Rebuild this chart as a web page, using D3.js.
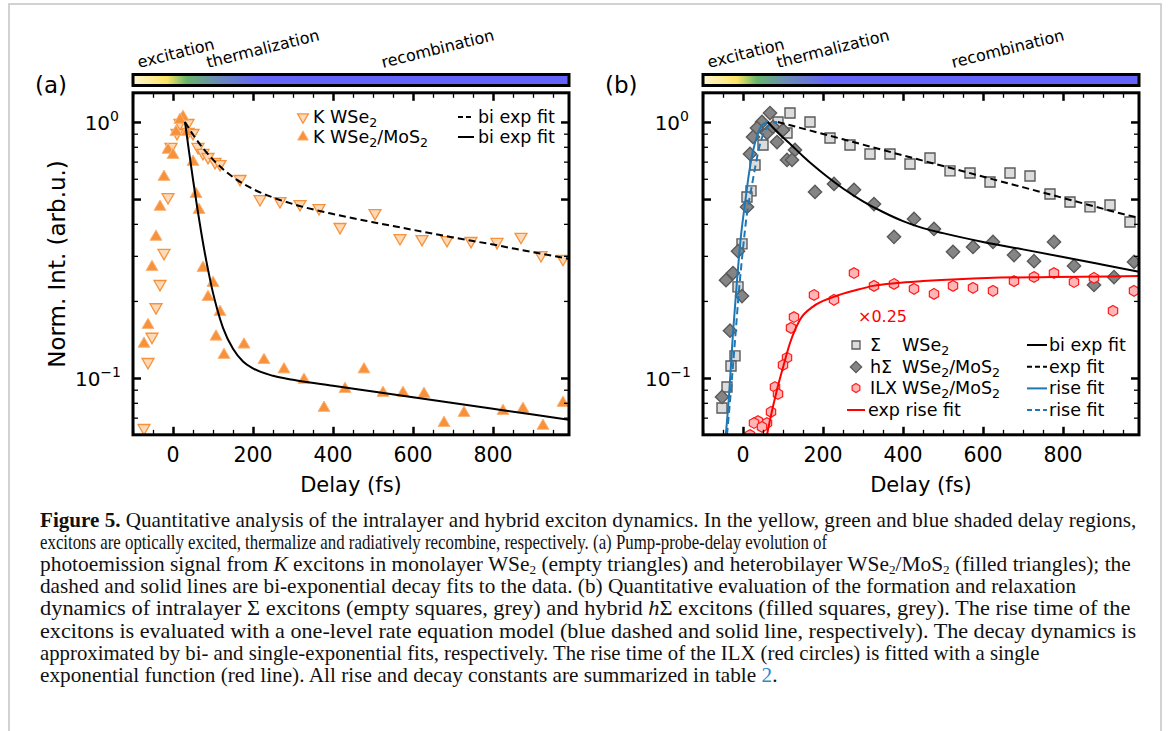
<!DOCTYPE html>
<html>
<head>
<meta charset="utf-8">
<script src="https://cdn.jsdelivr.net/npm/d3@7"></script>
<style>
  body { margin: 0; background: #fff; }
  svg { display: block; }
  text { font-family: "DejaVu Sans", sans-serif; }
</style>
</head>
<body>
<div id="fig"></div>
<script>
// ---- panel (a): K excitons, delay (fs) vs normalised intensity ----
var kWSe2_t = [17.5, 37.5, 10, 37.5, 50, -5, 62.5, 75, 87.5, 105, 117.5, 167.5, 217.5, 267.5, 317.5, 365, 417.5, -12.5, -22.5, -32.5, -42.5, -52.5, -62.5, -72.5,
               505, 567.5, 622.5, 685, 745, 810, 870, 920, 975];
var kWSe2_v = [0.991, 0.991, 0.906, 0.914, 0.906, 0.799, 0.799, 0.757, 0.730, 0.698, 0.685, 0.599, 0.500, 0.491, 0.478, 0.461, 0.389, 0.509, 0.308, 0.233, 0.189, 0.145, 0.1155, 0.0638,
               0.441, 0.352, 0.349, 0.346, 0.343, 0.340, 0.356, 0.302, 0.292];
var kHet_t = [25, 17.5, 7.5, 35, -12.5, 0, 50, -22.5, 57.5, -32.5, 65, -42.5, -52.5, 75, 100, 87.5, -62.5, -72.5, 117.5, 107.5, 127.5, 177.5, 227.5, 277.5, 327.5, 377.5, 430, 477.5, 525, 575, 627.5, 677.5, 727.5, 825, 875, 925, 975];
var kHet_v = [1.046, 1.018, 0.914, 0.914, 0.778, 0.743, 0.698, 0.610, 0.523, 0.466, 0.453, 0.356, 0.271, 0.269, 0.235, 0.207, 0.161, 0.136, 0.181, 0.145, 0.123, 0.135, 0.1175, 0.108, 0.0983, 0.0764, 0.0906, 0.108, 0.0874, 0.0874, 0.0866, 0.0667, 0.073, 0.0743, 0.0757, 0.065, 0.0799];
// bi-exponential fits
var fitKWSe2_t = [30, 50, 75, 100, 150, 200, 250, 300, 400, 500, 600, 700, 800, 900, 990];
var fitKWSe2_v = [1.0, 0.893, 0.790, 0.713, 0.609, 0.547, 0.507, 0.478, 0.437, 0.406, 0.379, 0.354, 0.332, 0.310, 0.292];
var fitKHet_t = [30, 40, 50, 60, 70, 80, 90, 100, 110, 125, 150, 175, 200, 250, 300, 400, 500, 600, 700, 800, 900, 990];
var fitKHet_v = [1.0, 0.767, 0.596, 0.469, 0.375, 0.305, 0.254, 0.215, 0.187, 0.157, 0.130, 0.116, 0.109, 0.102, 0.0984, 0.0933, 0.0886, 0.0841, 0.0798, 0.0758, 0.0720, 0.0687];

// ---- panel (b): Sigma, h-Sigma and ILX ----
var sig_t = [117.5, 87.5, 50, 110, 167.5, 217.5, 267.5, 317.5, 367.5, 417.5, 467.5, 30, 20, 10, -2.5, -12.5, -20, -30, -40, -52.5, 517.5, 567.5, 617.5, 667.5, 717.5, 767.5, 817.5, 867.5, 917.5, 967.5];
var sig_v = [1.084, 1.0, 0.813, 0.906, 1.0, 0.866, 0.813, 0.750, 0.750, 0.685, 0.723, 0.679, 0.538, 0.509, 0.334, 0.227, 0.122, 0.1114, 0.0922, 0.0764, 0.644, 0.632, 0.583, 0.632, 0.615, 0.523, 0.487, 0.466, 0.474, 0.407];
var hSig_t = [67.5, 47.5, 35, 25, 60, 75, 100, 85, 130, 110, 122.5, 17.5, 10, -12.5, -25, -42.5, -2.5, 180, 227.5, 277.5, 327.5, 377.5, 427.5, 477.5, -32.5, -52.5, 525, 575, 625, 677.5, 727.5, 777.5, 827.5, 877.5, 927.5, 977.5];
var hSig_v = [1.084, 1.0, 0.947, 0.874, 0.906, 0.956, 0.931, 0.835, 0.778, 0.711, 0.711, 0.750, 0.466, 0.313, 0.257, 0.241, 0.209, 0.533, 0.573, 0.543, 0.478, 0.356, 0.418, 0.382, 0.153, 0.0843, 0.311, 0.325, 0.340, 0.302, 0.286, 0.340, 0.274, 0.231, 0.248, 0.284];
var ilx_t = [277.5, 177.5, 227.5, 327.5, 377.5, 427.5, 477.5, 127.5, 120, 110, 100, 80, 87.5, 70, 60, 37.5, 27.5, 47.5, 17.5, 525, 575, 625, 677.5, 727.5, 777.5, 827.5, 877.5, 925, 977.5];
var ilx_v = [0.257, 0.211, 0.202, 0.229, 0.233, 0.223, 0.213, 0.173, 0.157, 0.120, 0.1124, 0.0922, 0.0866, 0.0737, 0.0667, 0.0679, 0.0667, 0.0644, 0.0599, 0.229, 0.225, 0.219, 0.239, 0.248, 0.257, 0.237, 0.246, 0.183, 0.219];
// fits
var fitHSigBi_t = [62, 90, 120, 150, 180, 210, 250, 300, 350, 400, 450, 500, 600, 700, 800, 900, 990];
var fitHSigBi_v = [1.0, 0.90, 0.815, 0.735, 0.668, 0.612, 0.55, 0.49, 0.445, 0.41, 0.385, 0.368, 0.34, 0.318, 0.297, 0.277, 0.26];
var fitSigExp_t = [87, 150, 250, 350, 450, 550, 650, 750, 850, 950, 990];
var fitSigExp_v = [1.0, 0.942, 0.856, 0.777, 0.706, 0.642, 0.583, 0.530, 0.481, 0.437, 0.422];
var riseHSig_t = [-43, -35, -25, -15, -5, 5, 15, 25, 35, 45, 55, 62];
var riseHSig_v = [0.06, 0.085, 0.15, 0.24, 0.36, 0.48, 0.63, 0.77, 0.88, 0.96, 0.99, 1.0];
var riseSig_t = [-40, -30, -20, -10, 0, 10, 20, 30, 40, 50, 60, 70, 85];
var riseSig_v = [0.06, 0.09, 0.14, 0.22, 0.32, 0.44, 0.54, 0.66, 0.79, 0.89, 0.95, 0.985, 1.0];
var riseIlx_t = [60, 67.5, 85, 100, 117.5, 142.5, 175, 225, 285, 325, 385, 450, 610, 775, 990];
var riseIlx_v = [0.06, 0.0685, 0.090, 0.110, 0.137, 0.169, 0.190, 0.207, 0.221, 0.229, 0.235, 0.239, 0.246, 0.248, 0.250];

var xTicksMajor = [0, 200, 400, 600, 800];
var xTicksMinor = [-100, -50, 50, 100, 150, 250, 300, 350, 450, 500, 550, 650, 700, 750, 850, 900, 950];
var yTicksMajor = [1, 0.5, 0.1];
var yTicksMinor = [0.06, 0.07, 0.08, 0.09, 0.2, 0.3, 0.4, 0.6, 0.7, 0.8, 0.9];

var W = 1168, H = 731;
var svg = d3.select("#fig").append("svg").attr("width", W).attr("height", H);

// light frame around the figure
svg.append("rect").attr("x", 9).attr("y", 4).attr("width", 1152).attr("height", 800)
    .attr("fill", "none").attr("stroke", "#c4c4c4").attr("stroke-width", 1.5);

var y = d3.scaleLog().domain([0.06, 1.3]).range([434.8, 92.8]);
var xa = d3.scaleLinear().domain([-100, 990]).range([133, 569]);
var xb = d3.scaleLinear().domain([-100, 990]).range([703, 1139]);

// colour bar gradient (yellow -> green -> blue)
var defs = svg.append("defs");
var grad = defs.append("linearGradient").attr("id", "phase");
[[-100, "#fcf6d4"], [-15, "#fde462"], [35, "#66b56b"], [110, "#6a8cb6"], [215, "#6565f8"], [990, "#6464fa"]].forEach(function (s) {
    grad.append("stop").attr("offset", (s[0] + 100) / 1090).attr("stop-color", s[1]);
});

var hexagon = {
    draw: function (ctx, size) {
        var r = Math.sqrt(size / 2.598);
        for (var i = 0; i < 6; i++) {
            var a = Math.PI / 3 * i - Math.PI / 2;
            if (i === 0) ctx.moveTo(r * Math.cos(a), r * Math.sin(a));
            else ctx.lineTo(r * Math.cos(a), r * Math.sin(a));
        }
        ctx.closePath();
    }
};

function zip(t, v) { return t.map(function (d, i) { return [d, v[i]]; }); }

function panel(id, x, label) {
    var g = svg.append("g");
    defs.append("clipPath").attr("id", "clip" + id).append("rect")
        .attr("x", x.range()[0]).attr("y", y.range()[1])
        .attr("width", x.range()[1] - x.range()[0]).attr("height", y.range()[0] - y.range()[1]);

    // colour bar + phase labels
    g.append("rect").attr("x", x(-100)).attr("y", 74.5).attr("width", x(990) - x(-100)).attr("height", 11)
        .attr("fill", "url(#phase)").attr("stroke", "#000").attr("stroke-width", 3);
    [["excitation", 6], ["thermalization", 75], ["recombination", 250]].forEach(function (p) {
        g.append("text").attr("transform", "translate(" + (x.range()[0] + p[1]) + ",68) rotate(-14)")
            .style("font-size", "16px").text(p[0]);
    });
    g.append("text").attr("x", x.range()[0] - 98).attr("y", 93).style("font-size", "23px").text(label);

    var data = g.append("g").attr("clip-path", "url(#clip" + id + ")");

    // axes: major / minor ticks on all four sides, pointing inward
    function ticks(axis, vals, len, w, tr) {
        var a = g.append("g").attr("transform", tr)
            .call(axis.tickValues(vals).tickSizeInner(-len).tickSizeOuter(0).tickFormat(""));
        a.select(".domain").remove();
        a.selectAll("line").attr("stroke-width", w);
    }
    var bottom = y.range()[0], top = y.range()[1], left = x.range()[0], right = x.range()[1];
    ticks(d3.axisBottom(x), xTicksMajor, 8, 2.5, "translate(0," + bottom + ")");
    ticks(d3.axisBottom(x), xTicksMinor, 5, 1.3, "translate(0," + bottom + ")");
    ticks(d3.axisTop(x), xTicksMajor, 8, 2.5, "translate(0," + top + ")");
    ticks(d3.axisTop(x), xTicksMinor, 5, 1.3, "translate(0," + top + ")");
    ticks(d3.axisLeft(y), yTicksMajor, 8, 2.5, "translate(" + left + ",0)");
    ticks(d3.axisLeft(y), yTicksMinor, 5, 1.3, "translate(" + left + ",0)");
    ticks(d3.axisRight(y), yTicksMajor, 8, 2.5, "translate(" + right + ",0)");
    ticks(d3.axisRight(y), yTicksMinor, 5, 1.3, "translate(" + right + ",0)");

    g.append("g").selectAll("text").data(xTicksMajor).enter().append("text")
        .attr("x", function (d) { return x(d); }).attr("y", bottom + 27)
        .attr("text-anchor", "middle").style("font-size", "20.5px").text(function (d) { return d; });
    [[1, "0", 119], [0.1, "\u22121", 121]].forEach(function (d) {
        var t = g.append("text").attr("x", left - (133 - d[2])).attr("y", y(d[0]) + 8)
            .attr("text-anchor", "end").style("font-size", "20px");
        t.append("tspan").text("10");
        t.append("tspan").attr("dy", -9).style("font-size", "14px").text(d[1]);
    });
    g.append("rect").attr("x", left).attr("y", top).attr("width", right - left).attr("height", bottom - top)
        .attr("fill", "none").attr("stroke", "#000").attr("stroke-width", 3);

    g.append("text").attr("x", (left + right) / 2).attr("y", 492).attr("text-anchor", "middle")
        .style("font-size", "21px").text("Delay (fs)");
    return data;
}

function scatter(g, x, t, v, type, size, rot, fill, stroke, sw) {
    g.append("g").selectAll("path").data(zip(t, v)).enter().append("path")
        .attr("d", d3.symbol().type(type).size(size))
        .attr("transform", function (d) { return "translate(" + x(d[0]) + "," + y(d[1]) + ") rotate(" + rot + ")"; })
        .attr("fill", fill).attr("stroke", stroke).attr("stroke-width", sw);
}
function curve(g, x, t, v, color, dash) {
    g.append("path").datum(zip(t, v))
        .attr("d", d3.line().x(function (d) { return x(d[0]); }).y(function (d) { return y(d[1]); }).curve(d3.curveMonotoneX))
        .attr("fill", "none").attr("stroke", color).attr("stroke-width", 2)
        .attr("stroke-dasharray", dash ? "7,4" : null);
}
function sub(t, s) {
    t.append("tspan").text(s[0]);
    for (var i = 1; i < s.length; i++) {
        t.append("tspan").attr("dy", 4).style("font-size", "0.72em").text("2");
        if (s[i]) t.append("tspan").attr("dy", -4).text(s[i]);
    }
}

// ---------- panel (a) ----------
var ga = panel("a", xa, "(a)");
scatter(ga, xa, kWSe2_t, kWSe2_v, d3.symbolTriangle, 62, 180, "#fdd9b8", "#f7923a", 1.3);
scatter(ga, xa, kHet_t, kHet_v, d3.symbolTriangle, 62, 0, "#f7913a", "#fbb57c", 1);
curve(ga, xa, fitKWSe2_t, fitKWSe2_v, "#000", true);
curve(ga, xa, fitKHet_t, fitKHet_v, "#000", false);

// legend (a)
svg.append("path").attr("d", d3.symbol().type(d3.symbolTriangle).size(50)).attr("transform", "translate(303,117) rotate(180)")
    .attr("fill", "#fdd9b8").attr("stroke", "#f7923a").attr("stroke-width", 1.3);
svg.append("path").attr("d", d3.symbol().type(d3.symbolTriangle).size(50)).attr("transform", "translate(303,137)")
    .attr("fill", "#f7913a").attr("stroke", "#fbb57c");
sub(svg.append("text").attr("x", 313).attr("y", 123).style("font-size", "17.5px"), ["K WSe", ""]);
sub(svg.append("text").attr("x", 313).attr("y", 143).style("font-size", "17.5px"), ["K WSe", "/MoS", ""]);
svg.append("line").attr("x1", 458).attr("x2", 474).attr("y1", 117).attr("y2", 117).attr("stroke", "#000").attr("stroke-width", 2).attr("stroke-dasharray", "5,3");
svg.append("line").attr("x1", 458).attr("x2", 474).attr("y1", 137).attr("y2", 137).attr("stroke", "#000").attr("stroke-width", 2);
svg.append("text").attr("x", 478).attr("y", 123).style("font-size", "17.5px").text("bi exp fit");
svg.append("text").attr("x", 478).attr("y", 143).style("font-size", "17.5px").text("bi exp fit");

// ---------- panel (b) ----------
var gb = panel("b", xb, "(b)");
scatter(gb, xb, sig_t, sig_v, d3.symbolSquare, 100, 0, "#dcdcdc", "#5a5a5a", 1.4);
scatter(gb, xb, hSig_t, hSig_v, d3.symbolSquare, 88, 45, "#858585", "#5a5a5a", 1.4);
scatter(gb, xb, ilx_t, ilx_v, hexagon, 75, 0, "#ffb5b5", "#ff1a1a", 1.2);
curve(gb, xb, riseSig_t, riseSig_v, "#1f77b4", true);
curve(gb, xb, riseHSig_t, riseHSig_v, "#1f77b4", false);
curve(gb, xb, fitSigExp_t, fitSigExp_v, "#000", true);
curve(gb, xb, fitHSigBi_t, fitHSigBi_v, "#000", false);
curve(gb, xb, riseIlx_t, riseIlx_v, "#ff0000", false);

svg.append("text").attr("x", 858).attr("y", 322).attr("fill", "#ff0000").style("font-size", "16px").text("\u00d70.25");

// legend (b)
var lb = svg.append("g").style("font-size", "17.5px");
lb.append("path").attr("d", d3.symbol().type(d3.symbolSquare).size(64)).attr("transform", "translate(856,345)")
    .attr("fill", "#dcdcdc").attr("stroke", "#5a5a5a").attr("stroke-width", 1.3);
lb.append("path").attr("d", d3.symbol().type(d3.symbolSquare).size(64)).attr("transform", "translate(856,367) rotate(45)")
    .attr("fill", "#858585").attr("stroke", "#5a5a5a").attr("stroke-width", 1.3);
lb.append("path").attr("d", d3.symbol().type(hexagon).size(52)).attr("transform", "translate(856,388)")
    .attr("fill", "#ffb5b5").attr("stroke", "#ff1a1a").attr("stroke-width", 1.2);
lb.append("line").attr("x1", 847).attr("x2", 865).attr("y1", 410).attr("y2", 410).attr("stroke", "#ff0000").attr("stroke-width", 2);
lb.append("text").attr("x", 870).attr("y", 351).text("\u03a3");
lb.append("text").attr("x", 870).attr("y", 373).text("h\u03a3");
lb.append("text").attr("x", 870).attr("y", 394).text("ILX");
lb.append("text").attr("x", 868).attr("y", 416).text("exp rise fit");
sub(lb.append("text").attr("x", 902).attr("y", 351), ["WSe", ""]);
sub(lb.append("text").attr("x", 902).attr("y", 373), ["WSe", "/MoS", ""]);
sub(lb.append("text").attr("x", 902).attr("y", 394), ["WSe", "/MoS", ""]);
[["bi exp fit", "#000", false], ["exp fit", "#000", true], ["rise fit", "#1f77b4", false], ["rise fit", "#1f77b4", true]].forEach(function (r, i) {
    var yy = 345 + i * 21.7;
    lb.append("line").attr("x1", 1027).attr("x2", 1047).attr("y1", yy).attr("y2", yy)
        .attr("stroke", r[1]).attr("stroke-width", 2).attr("stroke-dasharray", r[2] ? "5,3" : null);
    lb.append("text").attr("x", 1049).attr("y", yy + 6).text(r[0]);
});
svg.append("text").attr("transform", "translate(65,264) rotate(-90)").attr("text-anchor", "middle")
    .style("font-size", "23px").text("Norm. Int. (arb.u.)");

// ---------- caption ----------
var capLines = [
    [["Figure 5.", "b"], [" Quantitative analysis of the intralayer and hybrid exciton dynamics. In the yellow, green and blue shaded delay regions,"]],
    [["excitons are optically excited, thermalize and radiatively recombine, respectively. (a) Pump-probe-delay evolution of"]],
    [["photoemission signal from "], ["K", "i"], [" excitons in monolayer WSe"], ["2", "s"], [" (empty triangles) and heterobilayer WSe"], ["2", "s"], ["/MoS"], ["2", "s"], [" (filled triangles); the"]],
    [["dashed and solid lines are bi-exponential decay fits to the data. (b) Quantitative evaluation of the formation and relaxation"]],
    [["dynamics of intralayer \u03a3 excitons (empty squares, grey) and hybrid "], ["h", "i"], ["\u03a3 excitons (filled squares, grey). The rise time of the"]],
    [["excitons is evaluated with a one-level rate equation model (blue dashed and solid line, respectively). The decay dynamics is"]],
    [["approximated by bi- and single-exponential fits, respectively. The rise time of the ILX (red circles) is fitted with a single"]],
    [["exponential function (red line). All rise and decay constants are summarized in table "], ["2", "l"], ["."]]
];
var capEnd = [1137, 828, 1131, 1077, 1131, 1137, 1040, 778];
capLines.forEach(function (line, i) {
    var t = svg.append("text").attr("x", 0).attr("y", 0)
        .style("font-family", "'Liberation Serif', serif").style("font-size", "21px").attr("fill", "#111");
    var shifted = false;
    line.forEach(function (s) {
        var sp = t.append("tspan").text(s[0]);
        if (shifted) { sp.attr("dy", -3); shifted = false; }
        if (s[1] === "b") sp.style("font-weight", "bold");
        if (s[1] === "i") sp.style("font-style", "italic");
        if (s[1] === "l") sp.attr("fill", "#2a8bd0");
        if (s[1] === "s") { sp.attr("dy", 3).style("font-size", "13px"); shifted = true; }
    });
    // squeeze horizontally only, so glyph height stays the same on every line
    var sx = (capEnd[i] - 40) / t.node().getComputedTextLength();
    t.attr("transform", "translate(40," + (527 + i * 22.1) + ") scale(" + sx + ",1)");
});
</script>
</body>
</html>
